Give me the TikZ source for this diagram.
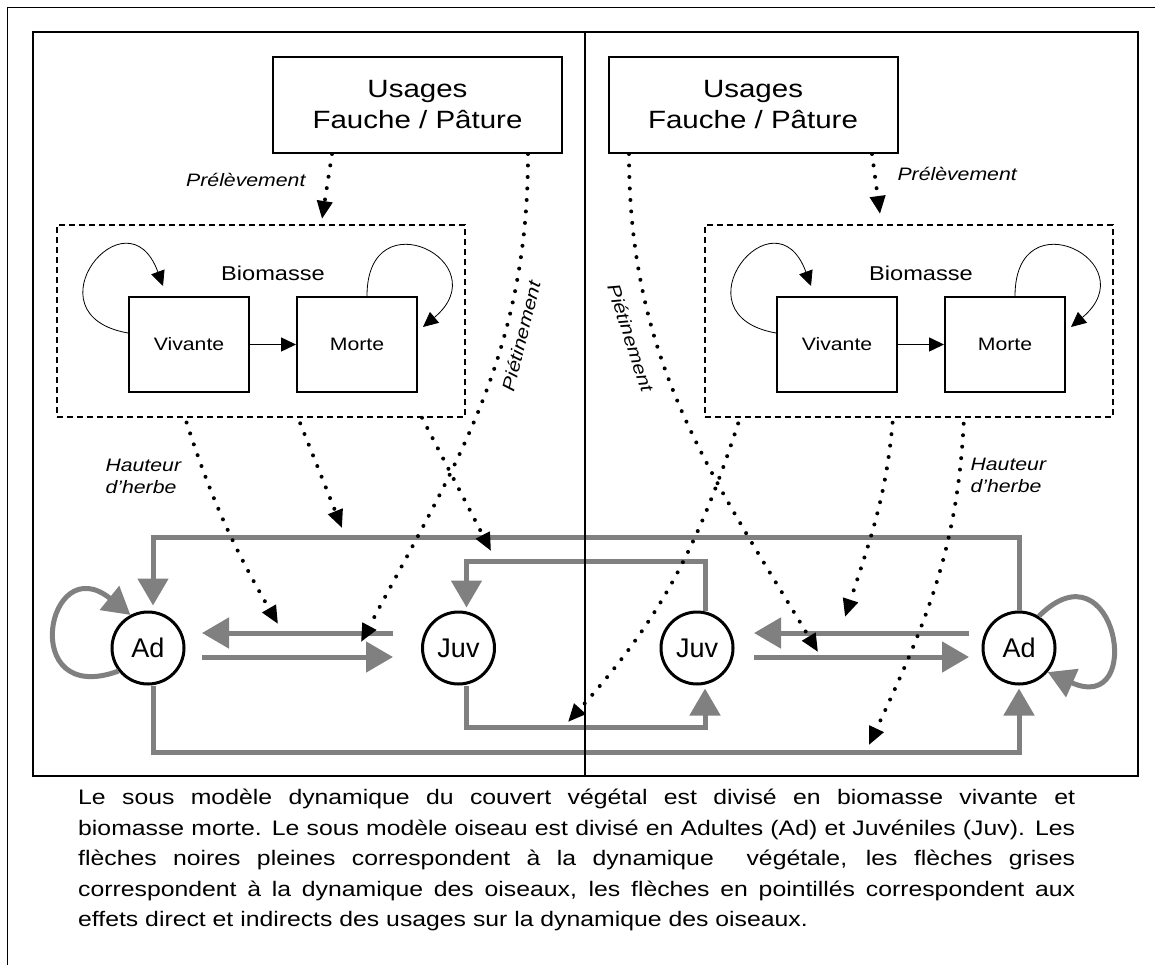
\documentclass[tikz,border=0pt]{standalone}
\usepackage{fontspec}
\setmainfont{Liberation Sans}[FakeStretch=1.18]
\newfontfamily\circfont{Liberation Sans}
\usetikzlibrary{arrows.meta,calc}
\definecolor{birdgray}{HTML}{808080}

\tikzset{
  usagebox/.style={draw, line width=2pt, minimum width=289pt, minimum height=96pt,
    align=center, font=\fontsize{25}{31}\selectfont},
  biobox/.style={draw, dash pattern=on 6pt off 4pt, line width=1.5pt,
    minimum width=408pt, minimum height=192pt},
  stockbox/.style={draw, line width=2pt, minimum width=120pt, minimum height=95pt,
    font=\fontsize{18}{22}\selectfont},
  birdnode/.style={circle, draw, line width=3pt, minimum size=72pt, inner sep=0pt,
    font=\circfont\fontsize{27}{30}\selectfont},
  vegarrow/.style={line width=1.5pt, -{Triangle[length=15pt,width=14pt]}},
  vegloop/.style={line width=0.8pt, -{Triangle[length=15pt,width=14pt]}},
  birdarrow/.style={draw=birdgray, line width=5pt, -{Triangle[length=27pt,width=30pt]}},
  usearrow/.style={line width=4pt, dash pattern=on 0pt off 11.5pt, line cap=round,
    -{Triangle[length=18pt,width=15pt]}},
  effect/.style={font=\itshape\fontsize{18}{22}\selectfont}
}

\begin{document}
\begin{tikzpicture}[x=1pt,y=1pt]
  \useasboundingbox (0,0) rectangle (1155,-965);
  % frames
  \draw[line width=1.5pt] (1160,-7.5) -- (7.5,-7.5) -- (7.5,-970);
  \draw[line width=2.5pt] (33,-32) rectangle (1138,-776);

  % usages
  \node[usagebox] (usL) at (417.5,-105) {Usages\\Fauche / Pâture};
  \node[usagebox] (usR) at (753,-105) {Usages\\Fauche / Pâture};

  % biomass sub-model, same in both halves
  \foreach \p/\dx in {L/0,R/648}{
    \node[biobox] (bio\p) at (261+\dx,-321) {};
    \node[font=\fontsize{20}{24}\selectfont] (lab\p) at (273+\dx,-273) {Biomasse};
    \node[stockbox] (viv\p) at (189+\dx,-344.5) {Vivante};
    \node[stockbox] (mor\p) at (357+\dx,-344.5) {Morte};
    \draw[vegarrow] (viv\p) -- (mor\p);
    \draw[vegloop] ([yshift=11.5pt]viv\p.west) to[out=170,in=110,looseness=4.6]
      ([xshift=-26pt,yshift=10pt]viv\p.north);
    \draw[vegloop] ([xshift=10pt]mor\p.north) to[out=90,in=40,looseness=4]
      ([xshift=5pt,yshift=17.5pt]mor\p.east);
  }

  % birds
  \node[birdnode] (adL) at (148,-648) {Ad};
  \node[birdnode] (juvL) at (458.5,-648) {Juv};
  \node[birdnode] (juvR) at (697,-648) {Juv};
  \node[birdnode] (adR) at (1019,-648) {Ad};

  \coordinate (topY) at (0,-537);
  \coordinate (loopY) at (0,-561);
  \coordinate (juvY) at (0,-727);
  \coordinate (adY) at (0,-752);

  \draw[birdarrow, shorten >=5pt] (adR.north) -- (adR.north |- topY)
    -| ([xshift=5pt]adL.north);
  \draw[birdarrow, shorten >=3pt] ([xshift=8pt]juvR.north) -- ([xshift=8pt]juvR.north |- loopY)
    -| ([xshift=8pt]juvL.north);
  \draw[birdarrow, shorten >=3pt] ([xshift=8pt]juvL.south) -- ([xshift=8pt]juvL.south |- juvY)
    -| ([xshift=8pt]juvR.south);
  \draw[birdarrow, shorten >=3pt] ([xshift=5pt]adL.south) -- ([xshift=5pt]adL.south |- adY)
    -| (adR.south);

  \draw[birdarrow, shorten <=28pt, shorten >=16.5pt] ([yshift=15pt]juvL.west) -- ([yshift=15pt]adL.east);
  \draw[birdarrow, shorten <=16.5pt, shorten >=28pt] ([yshift=-9pt]adL.east) -- ([yshift=-9pt]juvL.west);
  \draw[birdarrow, shorten <=12.5pt, shorten >=19.5pt] ([yshift=15pt]adR.west) -- ([yshift=15pt]juvR.east);
  \draw[birdarrow, shorten <=19.5pt, shorten >=12.5pt] ([yshift=-9pt]juvR.east) -- ([yshift=-9pt]adR.west);

  \draw[birdarrow] (adL.218) to[out=200,in=141,looseness=4.8] (adL.118);
  \draw[birdarrow] (adR.58) to[out=45,in=-24,looseness=4.9] (adR.-40);

  % effects of the usages
  \coordinate (tipPrelL) at (322,-219);
  \coordinate (tipPietL) at (361,-642);
  \coordinate (tipHautL) at (278,-624);
  \coordinate (tipMidL) at (342,-528);
  \coordinate (tipXL) at (491,-551);
  \coordinate (tipPrelR) at (880,-214);
  \coordinate (tipPietR) at (818,-652);
  \coordinate (tipXR) at (568,-722);
  \coordinate (tipMidR) at (845,-617);
  \coordinate (tipHautR) at (869,-745);

  \draw[usearrow] ([xshift=-85.5pt]usL.south) -- (tipPrelL);
  \draw[usearrow] ([xshift=110.5pt]usL.south) to[out=-90,in=62] (tipPietL);
  \draw[usearrow, shorten <=5pt] ([xshift=-76pt]bioL.south) to[out=-72,in=120] (tipHautL);
  \draw[usearrow, shorten <=6pt] ([xshift=37pt]bioL.south) -- (tipMidL);
  \draw[usearrow] ([xshift=161pt]bioL.south) -- (tipXL);

  \draw[usearrow] ([xshift=119pt]usR.south) -- (tipPrelR);
  \draw[usearrow] ([xshift=-124pt]usR.south) to[out=-90,in=121] (tipPietR);
  \draw[usearrow, shorten <=6pt] ([xshift=-169pt]bioR.south) to[out=-108,in=48] (tipXR);
  \draw[usearrow, shorten <=5pt] ([xshift=-16pt]bioR.south) to[out=-95,in=72] (tipMidR);
  \draw[usearrow, shorten <=6pt] ([xshift=55pt]bioR.south) to[out=-93,in=65] (tipHautR);

  \node[effect, anchor=east] (prelLabL) at (309,-180) {Prélèvement};
  \node[effect, anchor=west] (prelLabR) at (894,-174) {Prélèvement};
  \node[effect, anchor=west, align=left] (hautLabL) at (102,-476) {Hauteur\\d’herbe};
  \node[effect, anchor=west, align=left] (hautLabR) at (967,-475) {Hauteur\\d’herbe};
  \node[effect, rotate=76] (pietLabL) at (521,-336) {Piétinement};
  \node[effect, rotate=-72] (pietLabR) at (631,-338) {Piétinement};

  % divider between the two halves
  \draw[line width=2pt] (584.5,-32) -- (584.5,-776);

  % caption
  \node[anchor=base west, text width=997pt, align=justify, inner sep=0pt,
    font=\fontsize{21}{30.5}\selectfont] (caption) at (78,-804.5)
    {\tolerance=9999 Le sous modèle dynamique du couvert végétal est divisé en biomasse vivante et\linebreak
     biomasse morte. Le sous modèle oiseau est divisé en Adultes (Ad) et Juvéniles (Juv). Les\linebreak
     flèches noires pleines correspondent à la dynamique~ végétale, les flèches grises\linebreak
     correspondent à la dynamique des oiseaux, les flèches en pointillés correspondent aux\linebreak
     effets direct et indirects des usages sur la dynamique des oiseaux.};
\end{tikzpicture}
\end{document}
